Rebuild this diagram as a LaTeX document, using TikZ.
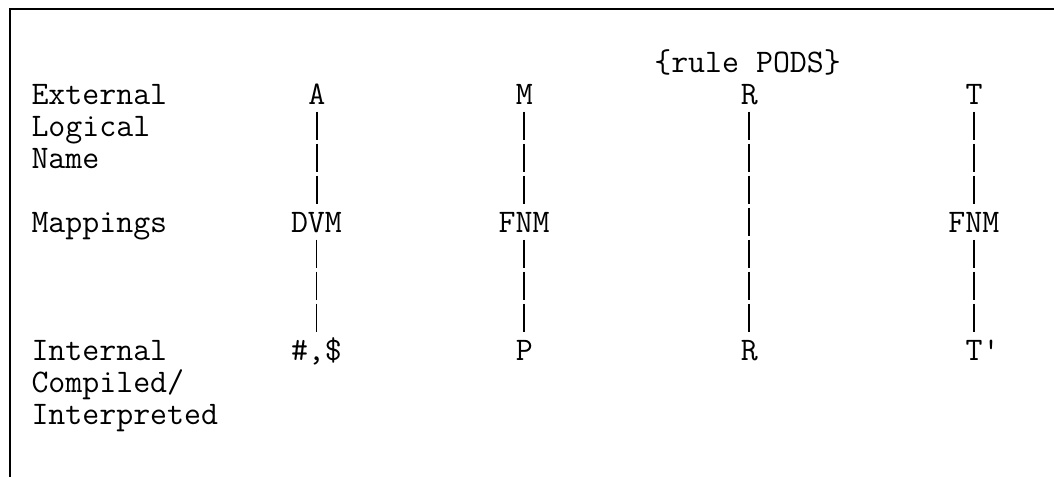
\documentclass[tikz,border=0pt]{standalone}
\begin{document}
\begin{tikzpicture}[x=0.75pt,y=-0.75pt,
  txt/.style={anchor=base west, inner sep=0pt, outer sep=0pt,
    font=\ttfamily\fontsize{24.7pt}{27pt}\selectfont, text=black},
  bar/.style={line width=1.4pt, dash pattern=on 21pt off 3pt,
    shorten <=5pt, shorten >=21pt},
  frame/.style={line width=1.5pt}]
\useasboundingbox (0,0) rectangle (1054,477);
\draw[frame] (9.5,477) -- (9.5,9.5) -- (1054,9.5);

% row labels
\node[txt] (ext)    at (31.5,105) {External};
\node[txt] (log)    at (31.5,137) {Logical};
\node[txt] (nam)    at (31.5,169) {Name};
\node[txt] (map)    at (31.5,233) {Mappings};
\node[txt] (int)    at (31.5,361) {Internal};
\node[txt] (comp)   at (31.5,393) {Compiled/};
\node[txt] (interp) at (31.5,425) {Interpreted};

% header
\node[txt] (rule) at (654.3,73) {\{rule PODS\}};

% external names
\node[txt] (A) at (308.3,105) {A};
\node[txt] (M) at (515.9,105) {M};
\node[txt] (R) at (740.8,105) {R};
\node[txt] (T) at (965.7,105) {T};

% mappings
\node[txt] (dvm)  at (291.0,233) {DVM};
\node[txt] (fnmM) at (498.6,233) {FNM};
\node[txt] (fnmT) at (948.4,233) {FNM};

% internal forms
\node[txt] (code) at (291.0,361) {\#,\$};
\node[txt] (P)    at (515.9,361) {P};
\node[txt] (Rint) at (740.8,361) {R};
\node[txt] (Tint) at (965.7,361) {T\textquotesingle};

% vertical links
\draw[bar] (A.base) -- (A.base |- dvm.base);
\draw[bar] (dvm.base) -- (dvm.base |- code.base);
\draw[bar] (M.base) -- (M.base |- fnmM.base);
\draw[bar] (fnmM.base) -- (fnmM.base |- P.base);
\draw[bar] (R.base) -- (R.base |- Rint.base);
\draw[bar] (T.base) -- (T.base |- fnmT.base);
\draw[bar] (fnmT.base) -- (fnmT.base |- Tint.base);
\end{tikzpicture}
\end{document}
